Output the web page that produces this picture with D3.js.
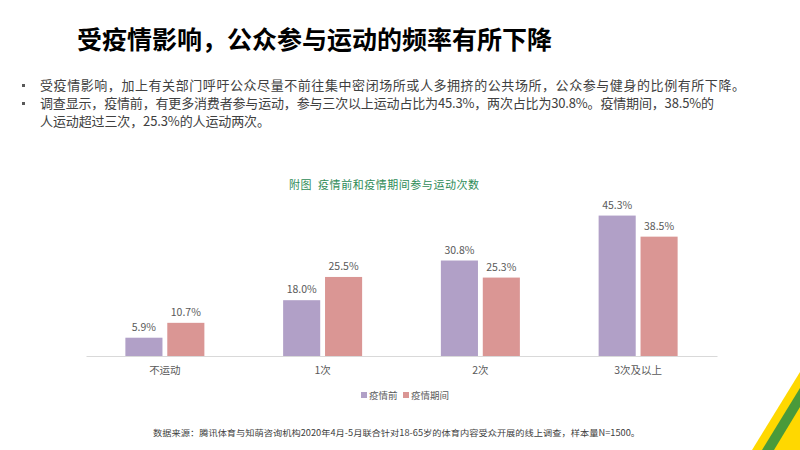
<!DOCTYPE html>
<html><head><meta charset="utf-8">
<script src="https://cdn.jsdelivr.net/npm/d3@7"></script>
<style>body{margin:0;background:#fff}svg{display:block}</style>
</head><body>
<svg id="c" width="800" height="450"></svg>
<script>
const categories = ["不运动", "1次", "2次", "3次及以上"];
const seriesNames = ["疫情前", "疫情期间"];
const before = [5.9, 18.0, 30.8, 45.3];
const during = [10.7, 25.5, 25.3, 38.5];
const colors = ["#b1a0c7", "#da9694"];
const title = "受疫情影响，公众参与运动的频率有所下降";
const bullets = [
  ["受疫情影响，加上有关部门呼吁公众尽量不前往集中密闭场所或人多拥挤的公共场所，公众参与健身的比例有所下降。"],
  ["调查显示，疫情前，有更多消费者参与运动，参与三次以上运动占比为45.3%，两次占比为30.8%。疫情期间，38.5%的", "人运动超过三次，25.3%的人运动两次。"]
];
const bulletWidths = [[705], [674, 230]];
const chartTitle = "附图  疫情前和疫情期间参与运动次数";
const source = "数据来源：腾讯体育与知萌咨询机构2020年4月-5月联合针对18-65岁的体育内容受众开展的线上调查，样本量N=1500。";

const svg = d3.select("#c");
const font = "'Noto Sans CJK SC','Microsoft YaHei',sans-serif";

// decoration
svg.append("polygon").attr("points","752,450 800,372 800,450").attr("fill","#ffd800");
svg.append("polygon").attr("points","762,450 800,388 800,407 774,450").attr("fill","#4a9a3a");

svg.append("text").attr("x",77).attr("y",49).text(title)
  .attr("font-family",font).attr("font-weight",700).attr("font-size",25).attr("fill","#000");

let ly = 90;
bullets.forEach((b, bi) => {
  svg.append("rect").attr("x",22).attr("y",ly-6).attr("width",3).attr("height",3).attr("fill","#595959");
  b.forEach((line, li) => {
    svg.append("text").attr("x",40).attr("y",ly).text(line)
      .attr("textLength",bulletWidths[bi][li]).attr("lengthAdjust","spacing")
      .attr("font-family",font).attr("font-size",13).attr("fill","#404040");
    ly += 18;
  });
});

svg.append("text").attr("x",384).attr("y",189).attr("text-anchor","middle").text(chartTitle)
  .attr("textLength",190).attr("lengthAdjust","spacing")
  .attr("font-family",font).attr("font-size",11).attr("fill","#2e8b57").style("white-space","pre");

const x0 = d3.scaleBand().domain(categories).range([86,717]).paddingInner(0).paddingOuter(0);
const x1 = d3.scaleBand().domain(seriesNames).range([0,79]).paddingInner(0.115);
const y = d3.scaleLinear().domain([0,50]).range([356,201]);

const groups = svg.append("g").selectAll("g").data(categories).join("g")
  .attr("transform", d => `translate(${x0(d)+(x0.bandwidth()-79)/2},0)`);
const vals = [before, during];
groups.each(function(c, i){
  const g = d3.select(this);
  seriesNames.forEach((s, k) => {
    const v = vals[k][i];
    g.append("rect").attr("x",x1(s)).attr("y",y(v)).attr("width",x1.bandwidth()).attr("height",356-y(v)).attr("fill",colors[k]);
    g.append("text").attr("x",x1(s)+x1.bandwidth()/2).attr("y",y(v)-7).attr("text-anchor","middle")
      .text(v.toFixed(1)+"%").attr("font-family",font).attr("font-size",10.5).attr("fill","#595959");
  });
});

const axis = svg.append("g").attr("transform","translate(0,356)")
  .call(d3.axisBottom(x0).tickSize(0).tickPadding(11));
axis.select(".domain").attr("stroke","#d9d9d9");
axis.selectAll("text").attr("font-family",font).attr("font-size",10.5).attr("fill","#595959");

// legend
const leg = svg.append("g");
const lx = [361, 403];
seriesNames.forEach((s,k)=>{
  leg.append("rect").attr("x",lx[k]).attr("y",392).attr("width",6).attr("height",6).attr("fill",colors[k]);
  leg.append("text").attr("x",lx[k]+8).attr("y",399).text(s).attr("font-family",font).attr("font-size",9.5).attr("fill","#595959");
});

svg.append("text").attr("x",153).attr("y",436).text(source)
  .attr("textLength",487).attr("lengthAdjust","spacingAndGlyphs")
  .attr("font-family",font).attr("font-size",8.5).attr("fill","#404040");
</script>
</body></html>
